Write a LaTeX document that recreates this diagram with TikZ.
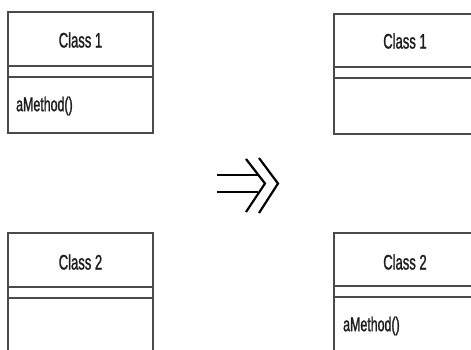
\documentclass[tikz,border=0pt]{standalone}
\usepackage{fontspec}
\newfontfamily\umlfont[FakeStretch=0.62,FakeBold=1.2]{Liberation Sans}
\definecolor{linegray}{HTML}{4A4A4A}
\definecolor{inkblack}{HTML}{1E1E1E}
\begin{document}
\begin{tikzpicture}[x=1pt,y=-1pt,
  classbox/.style={draw=linegray, line width=1.6pt, fill=white, inner sep=0pt},
  sepline/.style={draw=linegray, line width=1.8pt},
  classname/.style={font=\umlfont\fontsize{21}{21}\selectfont, text=inkblack, inner sep=0pt},
  member/.style={font=\umlfont\fontsize{20}{20}\selectfont, text=inkblack, inner sep=0pt, anchor=west},
  arrowstroke/.style={draw=black, line width=2.2pt}
]
\useasboundingbox (0,0) rectangle (471,349);
\clip (0,0) rectangle (471,349);

% --- before: Class 1 owns aMethod() ---
\node[classbox, minimum width=145pt, minimum height=121pt] (l1) at (80.5,72.5) {};
\draw[sepline] (l1.west |- 0,66) -- (l1.east |- 0,66);
\draw[sepline] (l1.west |- 0,77) -- (l1.east |- 0,77);
\node[classname] (l1name) at (80.5,40) {Class 1};
\node[member] (l1op) at (16,106) {aMethod()};

\node[classbox, minimum width=145pt, minimum height=127pt] (l2) at (80.5,296.5) {};
\draw[sepline] (l2.west |- 0,287) -- (l2.east |- 0,287);
\draw[sepline] (l2.west |- 0,298) -- (l2.east |- 0,298);
\node[classname] (l2name) at (80.5,262) {Class 2};

% --- after: aMethod() moved to Class 2 ---
\node[classbox, minimum width=142pt, minimum height=120pt] (r1) at (405,74) {};
\draw[sepline] (r1.west |- 0,67) -- (r1.east |- 0,67);
\draw[sepline] (r1.west |- 0,78) -- (r1.east |- 0,78);
\node[classname] (r1name) at (405,41) {Class 1};

\node[classbox, minimum width=142pt, minimum height=127pt] (r2) at (405,296.5) {};
\draw[sepline] (r2.west |- 0,286) -- (r2.east |- 0,286);
\draw[sepline] (r2.west |- 0,297) -- (r2.east |- 0,297);
\node[classname] (r2name) at (405,262) {Class 2};
\node[member] (r2op) at (343,326) {aMethod()};

% --- refactoring arrow ---
\draw[arrowstroke] (217,175) -- (258,175);
\draw[arrowstroke] (217,192) -- (258,192);
\draw[arrowstroke, line join=miter] (246,159) -- (265,183.5) -- (246,212);
\draw[arrowstroke, line join=miter] (259,158) -- (278,183.5) -- (259,213);
\end{tikzpicture}
\end{document}
